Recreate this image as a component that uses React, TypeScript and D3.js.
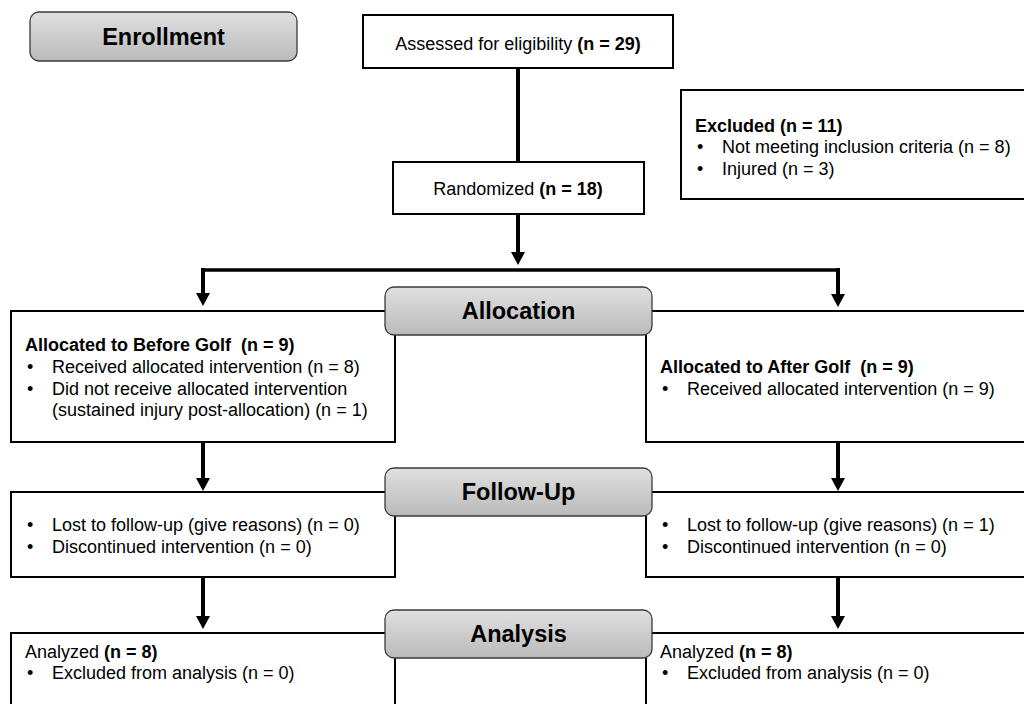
import React from "react";
import * as d3 from "d3";

// stage labels (grey rounded headers)
const stages = ["Enrollment", "Allocation", "Follow-Up", "Analysis"];

// text content for the boxes: [normal, bold] parts or bullet strings
const assessed = ["Assessed for eligibility ", "(n = 29)"];
const randomized = ["Randomized ", "(n = 18)"];
const excludedTitle = "Excluded (n = 11)";
const excludedItems = ["Not meeting inclusion criteria (n = 8)", "Injured (n = 3)"];

const armTitles = ["Allocated to Before Golf  (n = 9)", "Allocated to After Golf  (n = 9)"];
const allocItems = [
  ["Received allocated intervention (n = 8)", "Did not receive allocated intervention", "(sustained injury post-allocation) (n = 1)"],
  ["Received allocated intervention (n = 9)"],
];
const bulletFlags = [[true, true, false], [true]];
const followItems = [
  ["Lost to follow-up (give reasons) (n = 0)", "Discontinued intervention (n = 0)"],
  ["Lost to follow-up (give reasons) (n = 1)", "Discontinued intervention (n = 0)"],
];
const analyzedN = ["(n = 8)", "(n = 8)"];
const analysisItems = [["Excluded from analysis (n = 0)"], ["Excluded from analysis (n = 0)"]];

const W = 1024;
const H = 704;
const FONT = "Arial, 'Liberation Sans', Helvetica, sans-serif";
const FS = 18;

// layout
const stageBoxes = [
  { x: 30, y: 12, w: 267, h: 49 },
  { x: 385, y: 287, w: 267, h: 48 },
  { x: 385, y: 468, w: 267, h: 48 },
  { x: 385, y: 610, w: 267, h: 48 },
];
const armX = [11, 646];
const armW = [384, 400];
const armCx = [203, 838];
const rows = { alloc: [311, 442], follow: [492, 577], analysis: [633, 720] };

const line = d3.line<[number, number]>();

const Arrow = ({ x, y0, y1 }: { x: number; y0: number; y1: number }) => {
  const head = 13;
  const tri = d3.path();
  tri.moveTo(x - 7, y1 - head);
  tri.lineTo(x + 7, y1 - head);
  tri.lineTo(x, y1);
  tri.closePath();
  return (
    <g>
      <path d={line([[x, y0], [x, y1 - head + 1]]) || ""} stroke="#000" strokeWidth={4} fill="none" />
      <path d={tri.toString()} fill="#000" />
    </g>
  );
};

const Box = ({ x, y, w, h }: { x: number; y: number; w: number; h: number }) => (
  <rect x={x} y={y} width={w} height={h} fill="#fff" stroke="#000" strokeWidth={2} />
);

const Bullets = ({ x, y, items, flags }: { x: number; y: number; items: string[]; flags?: boolean[] }) => (
  <g>
    {items.map((t, i) => (
      <g key={i}>
        {(!flags || flags[i]) && (
          <text x={x} y={y + i * 21.5} fontSize={FS}>•</text>
        )}
        <text x={x + 25} y={y + i * 21.5} fontSize={FS}>{t}</text>
      </g>
    ))}
  </g>
);

export default function App() {
  return (
    <svg
      width={W}
      height={H}
      style={{ position: "absolute", left: 0, top: 0, background: "#fff" }}
      fontFamily={FONT}
      fill="#000"
    >
      <defs>
        <linearGradient id="grey" x1="0" y1="0" x2="0" y2="1">
          <stop offset="0" stopColor="#e0e0e0" />
          <stop offset="1" stopColor="#bababa" />
        </linearGradient>
      </defs>

      {/* connectors */}
      <path d={line([[518, 68], [518, 162]]) || ""} stroke="#000" strokeWidth={4} />
      <Arrow x={518} y0={214} y1={265} />
      <path d={line([[armCx[0], 270], [armCx[1], 270]]) || ""} stroke="#000" strokeWidth={3.5} />
      <Arrow x={armCx[0]} y0={268} y1={306} />
      <Arrow x={armCx[1]} y0={268} y1={307} />
      {armCx.map((cx, i) => (
        <g key={i}>
          <Arrow x={cx} y0={442} y1={491} />
          <Arrow x={cx} y0={577} y1={629} />
        </g>
      ))}

      {/* enrollment boxes */}
      <Box x={363} y={15} w={310} h={53} />
      <text x={518} y={50} fontSize={FS} textAnchor="middle">
        {assessed[0]}<tspan fontWeight="bold">{assessed[1]}</tspan>
      </text>
      <Box x={393} y={162} w={251} h={52} />
      <text x={518} y={195} fontSize={FS} textAnchor="middle">
        {randomized[0]}<tspan fontWeight="bold">{randomized[1]}</tspan>
      </text>
      <Box x={681} y={90} w={360} h={109} />
      <text x={695} y={132} fontSize={FS} fontWeight="bold">{excludedTitle}</text>
      <Bullets x={697} y={153} items={excludedItems} />

      {/* arm boxes */}
      {[0, 1].map((i) => (
        <g key={i}>
          <Box x={armX[i]} y={rows.alloc[0]} w={armW[i]} h={rows.alloc[1] - rows.alloc[0]} />
          <Box x={armX[i]} y={rows.follow[0]} w={armW[i]} h={rows.follow[1] - rows.follow[0]} />
          <Box x={armX[i]} y={rows.analysis[0]} w={armW[i]} h={rows.analysis[1] - rows.analysis[0]} />
          <text x={armX[i] + 14} y={i === 0 ? 351 : 373} fontSize={FS} fontWeight="bold" xmlSpace="preserve">{armTitles[i]}</text>
          <Bullets x={armX[i] + 16} y={i === 0 ? 373 : 395} items={allocItems[i]} flags={bulletFlags[i]} />
          <Bullets x={armX[i] + 16} y={531} items={followItems[i]} />
          <text x={armX[i] + 14} y={658} fontSize={FS}>
            Analyzed <tspan fontWeight="bold">{analyzedN[i]}</tspan>
          </text>
          <Bullets x={armX[i] + 16} y={679} items={analysisItems[i]} />
        </g>
      ))}

      {/* stage headers on top */}
      {stages.map((s, i) => {
        const b = stageBoxes[i];
        return (
          <g key={s}>
            <rect x={b.x} y={b.y} width={b.w} height={b.h} rx={9} ry={9} fill="url(#grey)" stroke="#3a3a3a" strokeWidth={1.3} />
            <text x={b.x + b.w / 2} y={b.y + b.h / 2 + 8} fontSize={23.5} fontWeight="bold" textAnchor="middle">{s}</text>
          </g>
        );
      })}
    </svg>
  );
}
